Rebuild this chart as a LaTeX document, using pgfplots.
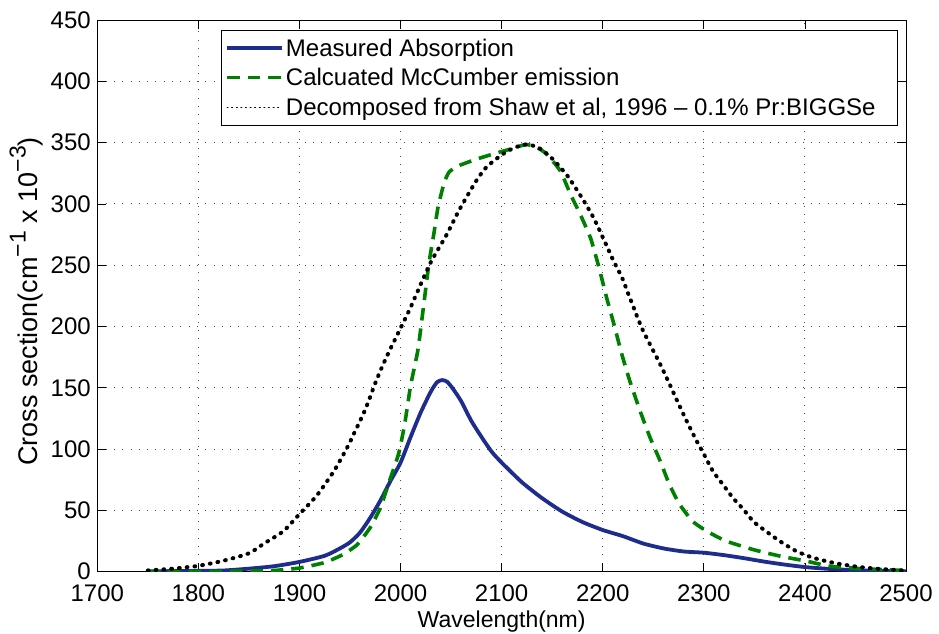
\documentclass[border=0pt]{standalone}
\usepackage{fontspec}
\setmainfont{Liberation Sans}
\usepackage{pgfplots}
\pgfplotsset{compat=1.18}
\definecolor{mblue}{RGB}{30,45,140}
\definecolor{mgreen}{RGB}{0,128,0}
\newcommand{\sups}[1]{\raisebox{0.42em}{\fontsize{23}{23}\selectfont #1}}
\begin{document}
\begin{tikzpicture}[font=\fontsize{24}{28}\selectfont]
\useasboundingbox (0,0) rectangle (939pt,633pt);
\begin{axis}[
  at={(97.3pt,61.3pt)}, anchor=south west,
  scale only axis, width=808.7pt, height=551.7pt,
  xmin=1700, xmax=2500, ymin=0, ymax=450,
  xtick={1700,1800,...,2500}, ytick={0,50,...,450},
  /pgf/number format/assume math mode=true,
  /pgf/number format/1000 sep={},
  tick label style={font=\fontsize{24}{28}\selectfont},
  xticklabel style={yshift=-10pt},
  yticklabel style={xshift=-3pt},
  tick align=inside, xtick pos=both, ytick pos=both,
  major tick length=9pt,
  every tick/.style={black, line width=0.8pt},
  axis line style={black, line width=0.9pt},
  grid=major,
  major grid style={black!70, line width=0.9pt, dash pattern=on 0.9pt off 7.4pt},
  xlabel={Wavelength(nm)},
  ylabel={Cross section(cm\sups{−1} x 10\sups{−3})},
  xlabel style={at={(axis description cs:0.5,-0.1005)}, anchor=base, inner sep=0pt, font=\fontsize{23}{27}\selectfont},
  ylabel style={at={(axis description cs:-0.0745,0.49)}, anchor=base, inner sep=0pt, font=\fontsize{27}{30}\selectfont},
  legend cell align=left,
  legend style={at={(axis description cs:1,1)}, anchor=north east, xshift=-8pt, yshift=-10pt,
    draw=black, line width=0.8pt, inner xsep=4pt, inner ysep=3pt,
    font=\fontsize{24}{28}\selectfont,
    nodes={text height=20pt, text depth=3.5pt, inner ysep=3pt, inner xsep=2pt}},
  legend image code/.code={\draw[#1] (0pt,0pt) -- (55pt,0pt);},
]
\addplot[mblue, line width=3.8pt, line join=round, smooth, tension=0.4] coordinates {
(1750,0.3) (1775,0.5) (1800,0.7) (1825,1.0) (1850,2.5) (1875,4.5) (1900,8) (1925,13)
(1940,19) (1950,24) (1960,32) (1970,44) (1980,58) (1990,74) (2000,89) (2010,110)
(2020,130) (2030,147) (2036,154.5) (2041,156.3) (2046,155) (2052,149) (2060,139)
(2070,123) (2080,110) (2090,98) (2100,89) (2120,73) (2140,60) (2160,49) (2180,40.5)
(2200,34) (2220,29) (2240,23) (2260,19) (2280,16.5) (2300,15.5) (2320,13.5) (2340,11)
(2360,8.2) (2380,5.8) (2400,3.8) (2420,2.5) (2440,1.6) (2460,1.0) (2480,0.6) (2500,0.4)
};
\addlegendentry{Measured Absorption}
\addplot[mgreen, line width=3.6pt, dash pattern=on 12.5pt off 8pt, line join=round, smooth, tension=0.3] coordinates {
(1750,0) (1800,0.2) (1850,0.5) (1875,1) (1900,3) (1925,7.5) (1943,14) (1957,22)
(1970,36) (1980,52) (1989,74) (1998,96) (2004,120) (2010,152) (2017,180) (2021,205)
(2028,251) (2033,276) (2037,297) (2043,317) (2048,326) (2057,331) (2077,337) (2097,342)
(2110,345) (2124,348.5) (2135,346) (2144,341) (2158,327) (2168,308) (2178,291) (2188,272)
(2196,249) (2204,223) (2211,202) (2219,177) (2227,155) (2237,131) (2247,109) (2257,90)
(2266,71) (2276,55) (2289,41) (2303,33) (2322,25) (2349,18) (2375,12.8) (2401,8.7)
(2424,4.6) (2457,2.4) (2500,1)
};
\addlegendentry{Calcuated McCumber emission}
\addplot[black, line width=4pt, line cap=round, dash pattern=on 0.8pt off 7pt, smooth, tension=0.4,
  legend image code/.code={\draw[black, line width=1pt, dash pattern=on 1pt off 3.6pt] (0pt,0pt) -- (55pt,0pt);}] coordinates {
(1750,1) (1775,2.5) (1800,4.8) (1825,9) (1850,15) (1865,23) (1884,33) (1900,47)
(1917,62) (1934,82) (1947,101) (1957,118) (1966,134) (1976,156) (1986,175) (1996,192)
(2009,214) (2029,251) (2045,274) (2058,295) (2075,319) (2085,330) (2100,340) (2113,346)
(2126,348.5) (2138,345) (2150,337) (2165,323) (2179,305.5) (2191,288.6) (2201,271) (2211,253)
(2219,240) (2227,223) (2238,200) (2247,185) (2257,169) (2265,155) (2273,140.5) (2283,123)
(2293,106.5) (2300,96) (2309,82) (2319,71) (2329,60) (2339,51) (2349,41) (2359,34.5)
(2375,25) (2391,17) (2408,11.4) (2428,7.3) (2447,4.6) (2467,2.7) (2497,1)
};
\addlegendentry{Decomposed from Shaw et al, 1996 – 0.1\% Pr:BIGGSe\hspace*{16pt}}
\end{axis}
\end{tikzpicture}
\end{document}
